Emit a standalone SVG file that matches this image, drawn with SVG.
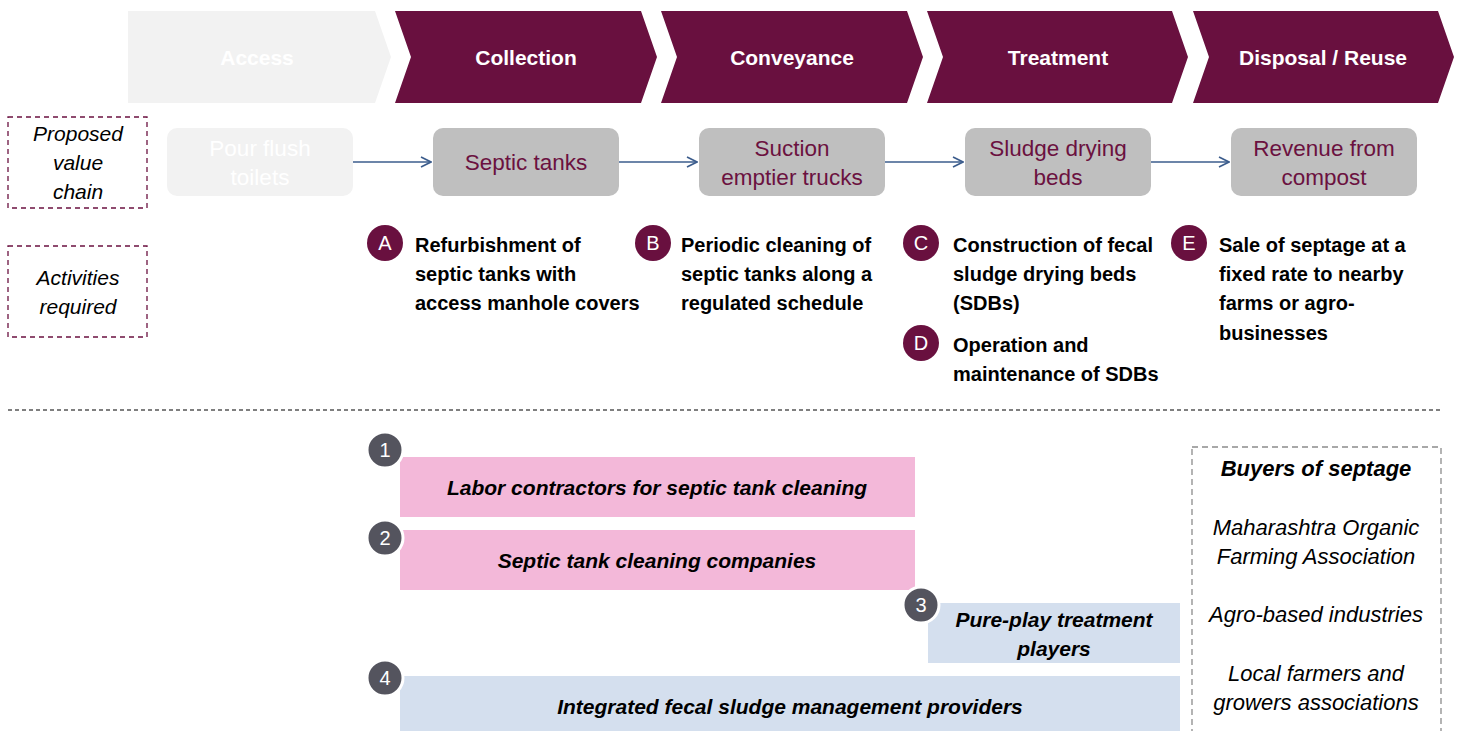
<svg xmlns="http://www.w3.org/2000/svg" width="1458" height="731" viewBox="0 0 1458 731">
<defs>
<style>
text{font-family:"Liberation Sans",Arial,sans-serif}
.chev{fill:#69103f}
.chevt{fill:#fff;font-weight:bold;font-size:21px;text-anchor:middle}
.box{fill:#bfbfbf}
.boxt{fill:#6b1140;font-size:22.5px;text-anchor:middle}
.lab{fill:none;stroke:#6b1140;stroke-width:1.3;stroke-dasharray:5,4}
.labt{font-size:21px;font-style:italic;text-anchor:middle;fill:#000}
.act{fill:#69103f}
.actl{fill:#fff;font-size:20px;text-anchor:middle}
.actt{font-size:20px;font-weight:bold;fill:#000}
.conn{stroke:#3b5c8c;stroke-width:1.6;fill:none}
.num{fill:#54545e;stroke:#fff;stroke-width:3}
.numt{fill:#fff;font-size:20px;text-anchor:middle}
.pink{fill:#f3b8d9}
.blue{fill:#d4dfee}
.bart{font-size:21px;font-weight:bold;font-style:italic;text-anchor:middle;fill:#000}
.buy{font-size:22px;font-style:italic;text-anchor:middle;fill:#000}
</style>
<marker id="ah" viewBox="0 0 12 12" refX="11" refY="6" markerWidth="12" markerHeight="12" markerUnits="userSpaceOnUse" orient="auto">
<path d="M1,1 L11,6 L1,11" fill="none" stroke="#3b5c8c" stroke-width="1.6"/>
</marker>
</defs>
<rect width="1458" height="731" fill="#fff"/>

<g id="stage-access">
<path d="M128,11 H375 L391,57 L375,103 H128 Z" fill="#f2f2f2"/>
<text class="chevt" x="257" y="65">Access</text>
</g>
<g id="stage-collection">
<path class="chev" d="M395,11 H641 L657,57 L641,103 H395 L411,57 Z"/>
<text class="chevt" x="526" y="65">Collection</text>
</g>
<g id="stage-conveyance">
<path class="chev" d="M661,11 H907 L923,57 L907,103 H661 L677,57 Z"/>
<text class="chevt" x="792" y="65">Conveyance</text>
</g>
<g id="stage-treatment">
<path class="chev" d="M927,11 H1172 L1188,57 L1172,103 H927 L943,57 Z"/>
<text class="chevt" x="1058" y="65">Treatment</text>
</g>
<g id="stage-disposal">
<path class="chev" d="M1193,11 H1438 L1454,57 L1438,103 H1193 L1209,57 Z"/>
<text class="chevt" x="1323" y="65">Disposal / Reuse</text>
</g>

<g id="label-proposed">
<rect class="lab" x="8" y="117" width="139" height="91"/>
<text class="labt" x="78" y="141">Proposed</text>
<text class="labt" x="78" y="170">value</text>
<text class="labt" x="78" y="199">chain</text>
</g>
<g id="label-activities">
<rect class="lab" x="8" y="246" width="139" height="91"/>
<text class="labt" x="78" y="285">Activities</text>
<text class="labt" x="78" y="314">required</text>
</g>

<g id="node-pour">
<rect x="167" y="128" width="186" height="68" rx="10" fill="#f2f2f2"/>
<text class="boxt" x="260" y="156" style="fill:#fff">Pour flush</text>
<text class="boxt" x="260" y="185" style="fill:#fff">toilets</text>
</g>
<g id="node-septic">
<rect class="box" x="433" y="128" width="186" height="68" rx="10"/>
<text class="boxt" x="526" y="170">Septic tanks</text>
</g>
<g id="node-suction">
<rect class="box" x="699" y="128" width="186" height="68" rx="10"/>
<text class="boxt" x="792" y="156">Suction</text>
<text class="boxt" x="792" y="185">emptier trucks</text>
</g>
<g id="node-sludge">
<rect class="box" x="965" y="128" width="186" height="68" rx="10"/>
<text class="boxt" x="1058" y="156">Sludge drying</text>
<text class="boxt" x="1058" y="185">beds</text>
</g>
<g id="node-revenue">
<rect class="box" x="1231" y="128" width="186" height="68" rx="10"/>
<text class="boxt" x="1324" y="156">Revenue from</text>
<text class="boxt" x="1324" y="185">compost</text>
</g>

<g id="connectors">
<line class="conn" x1="353" y1="162" x2="431" y2="162" marker-end="url(#ah)"/>
<line class="conn" x1="619" y1="162" x2="697" y2="162" marker-end="url(#ah)"/>
<line class="conn" x1="885" y1="162" x2="963" y2="162" marker-end="url(#ah)"/>
<line class="conn" x1="1151" y1="162" x2="1229" y2="162" marker-end="url(#ah)"/>
</g>

<g id="activity-A">
<circle class="act" cx="385" cy="243" r="18"/>
<text class="actl" x="385" y="250">A</text>
<text class="actt" x="415" y="252">Refurbishment of</text>
<text class="actt" x="415" y="281">septic tanks with</text>
<text class="actt" x="415" y="310">access manhole covers</text>
</g>
<g id="activity-B">
<circle class="act" cx="653" cy="243" r="18"/>
<text class="actl" x="653" y="250">B</text>
<text class="actt" x="681" y="252">Periodic cleaning of</text>
<text class="actt" x="681" y="281">septic tanks along a</text>
<text class="actt" x="681" y="310">regulated schedule</text>
</g>
<g id="activity-C">
<circle class="act" cx="921" cy="243" r="18"/>
<text class="actl" x="921" y="250">C</text>
<text class="actt" x="953" y="252">Construction of fecal</text>
<text class="actt" x="953" y="281">sludge drying beds</text>
<text class="actt" x="953" y="310">(SDBs)</text>
</g>
<g id="activity-D">
<circle class="act" cx="921" cy="343" r="18"/>
<text class="actl" x="921" y="350">D</text>
<text class="actt" x="953" y="352">Operation and</text>
<text class="actt" x="953" y="381">maintenance of SDBs</text>
</g>
<g id="activity-E">
<circle class="act" cx="1189" cy="243" r="18"/>
<text class="actl" x="1189" y="250">E</text>
<text class="actt" x="1219" y="252">Sale of septage at a</text>
<text class="actt" x="1219" y="281">fixed rate to nearby</text>
<text class="actt" x="1219" y="310">farms or agro-</text>
<text class="actt" x="1219" y="340">businesses</text>
</g>

<line id="divider" x1="8" y1="410" x2="1440" y2="410" stroke="#000" stroke-width="1.2" stroke-dasharray="4,3"/>

<g id="player-1">
<rect class="pink" x="400" y="457" width="515" height="60"/>
<circle class="num" cx="385" cy="450" r="18"/>
<text class="numt" x="385" y="457">1</text>
<text class="bart" x="657" y="495">Labor contractors for septic tank cleaning</text>
</g>
<g id="player-2">
<rect class="pink" x="400" y="530" width="515" height="60"/>
<circle class="num" cx="385" cy="538" r="18"/>
<text class="numt" x="385" y="545">2</text>
<text class="bart" x="657" y="568">Septic tank cleaning companies</text>
</g>
<g id="player-3">
<rect class="blue" x="928" y="603" width="252" height="60"/>
<circle class="num" cx="921" cy="605" r="18"/>
<text class="numt" x="921" y="612">3</text>
<text class="bart" x="1054" y="627">Pure-play treatment</text>
<text class="bart" x="1054" y="656">players</text>
</g>
<g id="player-4">
<rect class="blue" x="400" y="676" width="780" height="60"/>
<circle class="num" cx="385" cy="678" r="18"/>
<text class="numt" x="385" y="685">4</text>
<text class="bart" x="790" y="714">Integrated fecal sludge management providers</text>
</g>

<g id="buyers">
<rect x="1192" y="447" width="249" height="300" fill="none" stroke="#8c8c8c" stroke-width="1.3" stroke-dasharray="6,4"/>
<text class="buy" x="1316" y="476" font-weight="bold">Buyers of septage</text>
<text class="buy" x="1316" y="535">Maharashtra Organic</text>
<text class="buy" x="1316" y="564">Farming Association</text>
<text class="buy" x="1316" y="622">Agro-based industries</text>
<text class="buy" x="1316" y="681">Local farmers and</text>
<text class="buy" x="1316" y="710">growers associations</text>
</g>
</svg>
